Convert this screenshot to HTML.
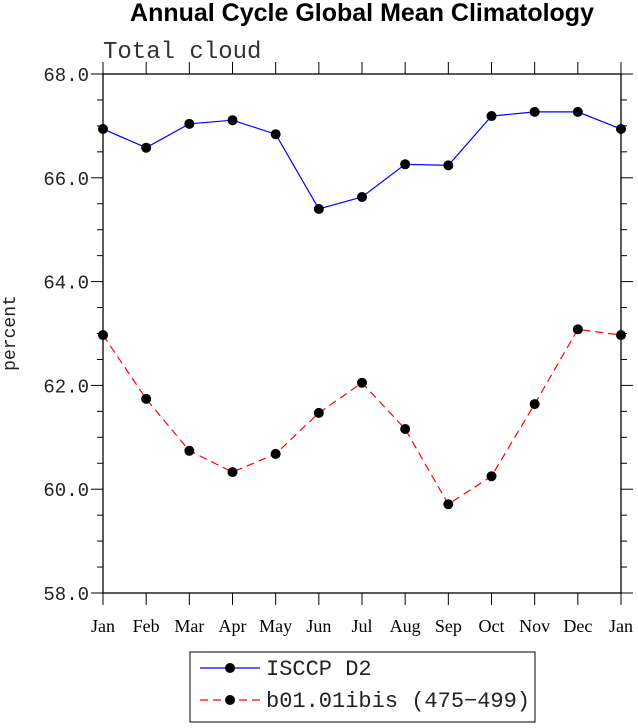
<!DOCTYPE html>
<html><head><meta charset="utf-8"><style>
body{margin:0;background:#fff;width:638px;height:723px;overflow:hidden}
svg text{font-family:"Liberation Serif",serif}
</style></head><body>
<svg id="c" width="638" height="723">
<text x="362" y="21" text-anchor="middle" font-weight="bold" font-size="25" style="font-family:'Liberation Sans',sans-serif">Annual Cycle Global Mean Climatology</text>
<text x="103" y="58" font-size="24" fill="#333" style="font-family:'Liberation Mono',monospace">Total cloud</text>
<text x="15" y="333" font-size="18" fill="#222" text-anchor="middle" transform="rotate(-90 15 333)" style="font-family:'Liberation Mono',monospace">percent</text>
<g id="axes"></g>
<g id="series"></g>
<g id="legend">
<rect x="190" y="652" width="345" height="70" fill="#fff" stroke="#000" stroke-width="1"/>
<line x1="200" y1="668" x2="260" y2="668" stroke="blue" stroke-width="1.2"/>
<circle cx="230" cy="668" r="5" fill="#000"/>
<text x="266" y="675" font-size="22" fill="#222" style="font-family:'Liberation Mono',monospace">ISCCP D2</text>
<line x1="200" y1="700" x2="260" y2="700" stroke="red" stroke-width="1.2" stroke-dasharray="8,5"/>
<circle cx="230" cy="700" r="5" fill="#000"/>
<text x="266" y="707" font-size="22" fill="#222" style="font-family:'Liberation Mono',monospace">b01.01ibis (475−499)</text>
</g>
</svg>
<script>
const months=["Jan","Feb","Mar","Apr","May","Jun","Jul","Aug","Sep","Oct","Nov","Dec","Jan"];
const isccp=[66.94,66.58,67.04,67.11,66.84,65.40,65.63,66.26,66.24,67.19,67.27,67.27,66.94];
const b01=[62.97,61.74,60.74,60.33,60.68,61.47,62.05,61.16,59.71,60.25,61.64,63.08,62.97];
const yTicks=[58,60,62,64,66,68];
const X0=103,X1=621,Y0=593,Y1=74,YMIN=58,YMAX=68;
const ns="http://www.w3.org/2000/svg";
function xs(i){return X0+(X1-X0)*i/(months.length-1);}
function ys(v){return Y0-(v-YMIN)/(YMAX-YMIN)*(Y0-Y1);}
function mk(tag,attrs,parent){const e=document.createElementNS(ns,tag);for(const k in attrs)e.setAttribute(k,attrs[k]);parent.appendChild(e);return e;}
const ax=document.getElementById('axes');
const frame=mk('rect',{x:X0,y:Y1,width:X1-X0,height:Y0-Y1,fill:'none',stroke:'#000','stroke-width':1.3},ax);


for(let v=YMIN;v<=YMAX+1e-9;v+=0.5){
  const y=ys(v),maj=Math.abs(v-Math.round(v/2)*2)<1e-6;
  mk('line',{x1:X0-(maj?12:6),y1:y,x2:X0,y2:y,stroke:'#000'},ax);
  mk('line',{x1:X1,y1:y,x2:X1+(maj?12:6),y2:y,stroke:'#000'},ax);
}
yTicks.forEach(v=>{
  const t=mk('text',{x:X0-14,y:ys(v)+7,'text-anchor':'end','font-size':19,fill:'#222',style:"font-family:'Liberation Mono',monospace"},ax);
  t.textContent=v.toFixed(1);
  
  
});
months.forEach((m,i)=>{
  const x=xs(i);
  mk('line',{x1:x,y1:Y0,x2:x,y2:Y0+12,stroke:'#000'},ax);
  mk('line',{x1:x,y1:Y1-12,x2:x,y2:Y1,stroke:'#000'},ax);
  const t=mk('text',{x:x,y:Y0+39,'text-anchor':'middle','font-size':18},ax);
  t.textContent=m;
  
  
});
const sg=document.getElementById('series');
function draw(vals,color,dash,name){
  const p=mk('polyline',{points:vals.map((v,i)=>xs(i)+','+ys(v)).join(' '),fill:'none',stroke:color,'stroke-width':1.2,'stroke-dasharray':dash},sg);
  
  
  vals.forEach((v,i)=>{
    const c=mk('circle',{cx:xs(i),cy:ys(v),r:5,fill:'#000'},sg);
    
    
  });
}
draw(isccp,'blue','none','isccp');
draw(b01,'red','8,5','b01');
</script>
</body></html>
